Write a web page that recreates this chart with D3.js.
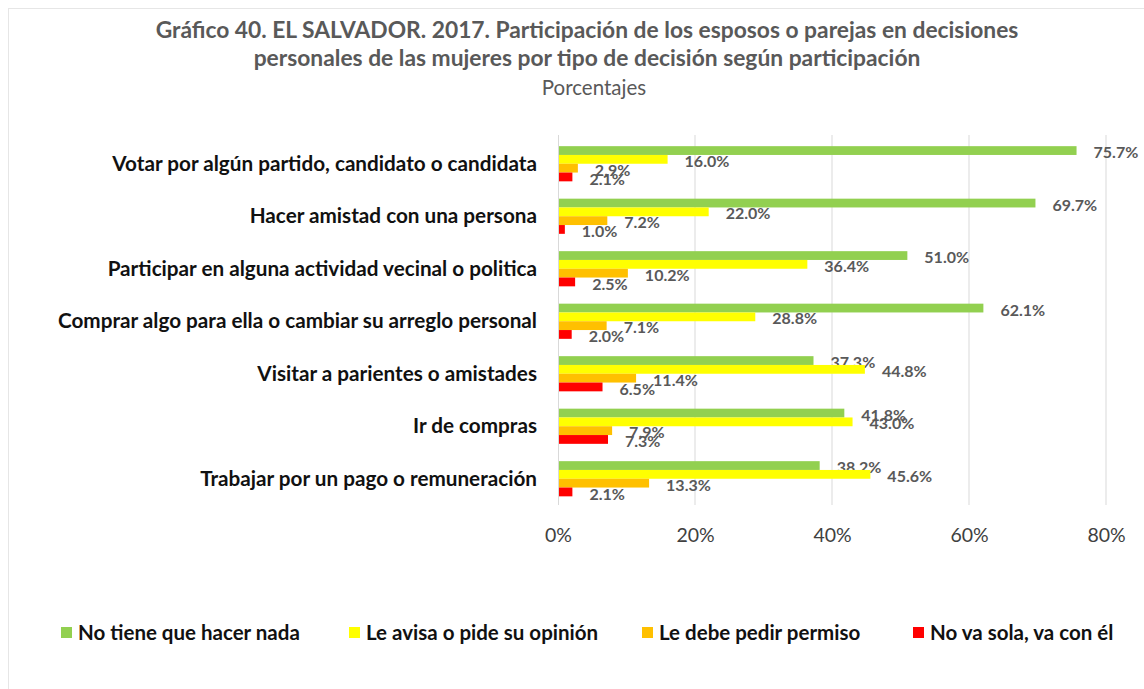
<!DOCTYPE html>
<html>
<head>
<meta charset="utf-8">
<script src="https://cdn.jsdelivr.net/npm/d3@7"></script>
<style>
  body { margin: 0; background: #fff; }
  svg { display: block; }
</style>
</head>
<body>
<svg id="chart" width="1144" height="689"></svg>
<script>
// data
var categories = [
    "Votar por algún partido, candidato o candidata",
    "Hacer amistad con una persona",
    "Participar en alguna actividad vecinal o politica",
    "Comprar algo para ella o cambiar su arreglo personal",
    "Visitar a parientes o amistades",
    "Ir de compras",
    "Trabajar por un pago o remuneración"
];
var seriesNames = ["No tiene que hacer nada", "Le avisa o pide su opinión", "Le debe pedir permiso", "No va sola, va con él"];
var noTiene   = [75.7, 69.7, 51.0, 62.1, 37.3, 41.8, 38.2];
var leAvisa   = [16.0, 22.0, 36.4, 28.8, 44.8, 43.0, 45.6];
var leDebe    = [2.9, 7.2, 10.2, 7.1, 11.4, 7.9, 13.3];
var noVaSola  = [2.1, 1.0, 2.5, 2.0, 6.5, 7.3, 2.1];
var xTicks = [0, 20, 40, 60, 80];

var seriesValues = [noTiene, leAvisa, leDebe, noVaSola];
var colors = ["#92D050", "#FFFF00", "#FFC000", "#FF0000"];

var svg = d3.select("#chart");
var labelFont = "Lato, 'Open Sans', sans-serif";

// frame
svg.append("rect")
    .attr("x", 8.5).attr("y", 8.5)
    .attr("width", 1150).attr("height", 700)
    .attr("fill", "none")
    .attr("stroke", "#e6e6e6");

// title
var title = svg.append("g").attr("font-family", labelFont).attr("fill", "#595959").attr("text-anchor", "middle");
title.append("text").attr("x", 587).attr("y", 38)
    .attr("font-size", 22.8).attr("font-weight", "bold")
    .text("Gráfico 40. EL SALVADOR. 2017. Participación de los esposos o parejas en decisiones");
title.append("text").attr("x", 587).attr("y", 66)
    .attr("font-size", 22.8).attr("font-weight", "bold")
    .text("personales de las mujeres por tipo de decisión según participación");
title.append("text").attr("x", 594).attr("y", 95)
    .attr("font-size", 20.5)
    .text("Porcentajes");

// scales
var x = d3.scaleLinear().domain([0, 80]).range([558, 1106]);
var y = d3.scaleBand().domain(categories).range([137.5, 505]).paddingInner(0.33).paddingOuter(0.165);
var ySub = d3.scaleBand().domain(d3.range(seriesNames.length)).range([0, y.bandwidth()]);

// gridlines
svg.append("g").selectAll("line")
    .data(xTicks.slice(1))
    .enter().append("line")
    .attr("x1", function(d){ return x(d); })
    .attr("x2", function(d){ return x(d); })
    .attr("y1", 135).attr("y2", 505)
    .attr("stroke", "#d9d9d9").attr("stroke-width", 1);

// x axis
var xAxis = svg.append("g")
    .attr("transform", "translate(0,505)")
    .call(d3.axisBottom(x).tickValues(xTicks).tickFormat(function(d){ return d + "%"; }).tickSize(0).tickPadding(23));
xAxis.select(".domain").remove();
xAxis.selectAll("text")
    .attr("font-family", labelFont)
    .attr("font-size", 19.5)
    .attr("fill", "#404040");

// bars
var groups = svg.append("g").selectAll("g.cat")
    .data(categories)
    .enter().append("g")
    .attr("class", "cat")
    .attr("transform", function(d){ return "translate(0," + y(d) + ")"; });

groups.each(function(cat, ci){
    var g = d3.select(this);
    seriesValues.forEach(function(vals, si){
        var v = vals[ci];
        g.append("rect")
            .attr("x", x(0))
            .attr("y", ySub(si))
            .attr("width", x(v) - x(0))
            .attr("height", ySub.bandwidth())
            .attr("fill", colors[si]);
        g.append("text")
            .attr("x", x(v) + 17)
            .attr("y", ySub(si) + ySub.bandwidth() / 2 + 2)
            .attr("dy", "0.35em")
            .attr("font-family", labelFont)
            .attr("font-weight", "bold")
            .attr("font-size", 16)
            .attr("fill", "#595959")
            .text(v.toFixed(1) + "%");
    });
});

// y axis line
svg.append("line")
    .attr("x1", x(0) + 0.5).attr("x2", x(0) + 0.5)
    .attr("y1", 135).attr("y2", 505)
    .attr("stroke", "#d9d9d9");

// category labels
svg.append("g").selectAll("text")
    .data(categories)
    .enter().append("text")
    .attr("x", 537)
    .attr("y", function(d){ return y(d) + y.bandwidth() / 2; })
    .attr("dy", "0.35em")
    .attr("text-anchor", "end")
    .attr("font-family", labelFont)
    .attr("font-weight", "bold")
    .attr("font-size", 20.7)
    .attr("fill", "#111")
    .text(function(d){ return d; });

// legend
var legendX = [61, 349, 642, 913];
var legend = svg.append("g").selectAll("g")
    .data(seriesNames)
    .enter().append("g")
    .attr("transform", function(d, i){ return "translate(" + legendX[i] + ",627)"; });
legend.append("rect")
    .attr("width", 11).attr("height", 11)
    .attr("fill", function(d, i){ return colors[i]; });
legend.append("text")
    .attr("x", 17).attr("y", 6)
    .attr("dy", "0.35em")
    .attr("font-family", labelFont)
    .attr("font-weight", "bold")
    .attr("font-size", 20.5)
    .attr("fill", "#111")
    .text(function(d){ return d; });
</script>
</body>
</html>
